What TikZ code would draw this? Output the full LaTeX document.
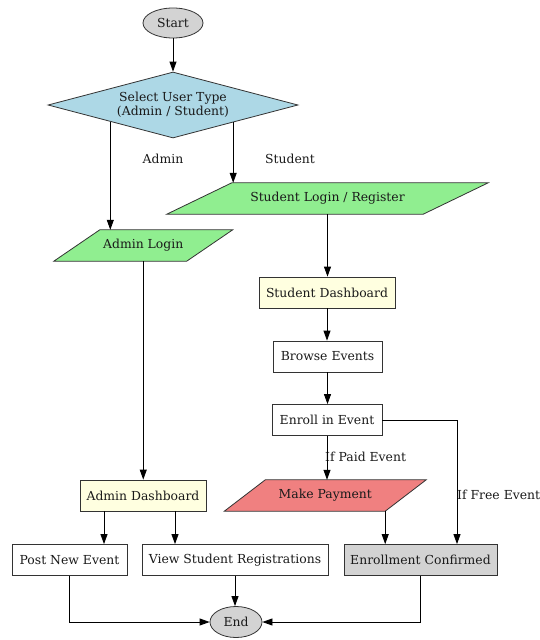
\documentclass[tikz,border=0pt]{standalone}
\usepackage{fontspec}
\setmainfont{DejaVu Serif}
\usetikzlibrary{shapes.geometric,arrows.meta,calc}
\definecolor{lblue}{HTML}{ADD8E6}
\definecolor{lgreen}{HTML}{90EE90}
\definecolor{lyellow}{HTML}{FFFFE0}
\definecolor{lcoral}{HTML}{F08080}
\definecolor{lgray}{HTML}{D3D3D3}
\definecolor{edgec}{HTML}{333333}
\definecolor{textc}{HTML}{1A1A1A}
\pgfdeclarelayer{bg}
\pgfsetlayers{bg,main}
\newcommand{\paral}[3]{%
  \begin{pgfonlayer}{bg}
  \path[draw=edgec,line width=0.8pt,fill=#3]
    ($(#1.north west)+(#2,0)$) -- ($(#1.north east)+(#2,0)$) --
    ($(#1.south east)-(#2,0)$) -- ($(#1.south west)-(#2,0)$) -- cycle;
  \end{pgfonlayer}}
\begin{document}
\begin{tikzpicture}[x=1pt,y=-1pt,
  font=\fontsize{12.4}{13.5}\selectfont,
  every node/.style={text=textc},
  box/.style={rectangle,draw=edgec,line width=0.8pt,minimum height=31pt,inner sep=0pt},
  ell/.style={ellipse,draw=edgec,line width=0.8pt,fill=lgray,inner sep=0pt},
  plain/.style={rectangle,minimum height=31pt,inner sep=0pt},
  lbl/.style={inner sep=0pt},
  arr/.style={draw=black,line width=0.8pt,-{Triangle[length=10pt,width=7pt]}}]
\useasboundingbox (0,0) rectangle (540,640);
% nodes
\node[ell,minimum width=60pt,minimum height=30pt] (start) at (173,23) {Start};
\node[diamond,draw=edgec,line width=0.8pt,fill=lblue,aspect=3.788,minimum width=250pt,minimum height=66pt,inner sep=0pt,align=center] (sel) at (173,105) {Select User Type\\(Admin / Student)};
\node[plain,minimum width=256pt] (slogin) at (327.5,198.5) {Student Login / Register};
\paral{slogin}{32.5}{lgreen}
\node[plain,minimum width=132.5pt] (alogin) at (143.25,245.5) {Admin Login};
\paral{alogin}{23}{lgreen}
\node[box,fill=lyellow,minimum width=136pt] (sdash) at (327,292.5) {Student Dashboard};
\node[box,minimum width=109pt] (browse) at (327.5,356.5) {Browse Events};
\node[box,minimum width=110pt] (enroll) at (327,420) {Enroll in Event};
\node[box,fill=lyellow,minimum width=126pt] (adash) at (143,495.5) {Admin Dashboard};
\node[plain,minimum width=160.5pt] (pay) at (325.25,495.5) {Make Payment};
\paral{pay}{20.5}{lcoral}
\node[box,minimum width=115pt] (post) at (69.5,560) {Post New Event};
\node[box,minimum width=186pt] (view) at (235,560) {View Student Registrations};
\node[box,fill=lgray,minimum width=153pt] (conf) at (420.5,560) {Enrollment Confirmed};
\node[ell,minimum width=52pt,minimum height=31pt] (end) at (236,622) {End};
% edge labels
\node[lbl] (ladmin) at (163,159) {Admin};
\node[lbl] (lstudent) at (290,159) {Student};
\node[lbl,anchor=west] (lpaid) at (325,457) {If Paid Event};
\node[lbl,anchor=west] (lfree) at (457,495) {If Free Event};
% connectors
\coordinate (sa) at ($(sel.west)!0.5!(sel.south)$);
\coordinate (sb) at ($(sel.east)!0.52!(sel.south)$);
\coordinate (pe) at ($(pay.south east)-(20.5,0)$);
\coordinate (ad1) at ($(adash.south)+(-39,0)$);
\coordinate (ad2) at ($(adash.south)+(32,0)$);
\coordinate (cf) at ($(conf.north)+(36.5,0)$);
\draw[arr] (start.south) -- (start.south |- sel.north);
\draw[arr] (sa) -- (sa |- alogin.north);
\draw[arr] (sb) -- (sb |- slogin.north);
\draw[arr] (slogin.south) -- (slogin.south |- sdash.north);
\draw[arr] (alogin.south) -- (alogin.south |- adash.north);
\draw[arr] (sdash.south) -- (sdash.south |- browse.north);
\draw[arr] (browse.south) -- (browse.south |- enroll.north);
\draw[arr] (enroll.south) -- (enroll.south |- pay.north);
\draw[arr] (enroll.east) -| (cf);
\draw[arr] (pe) -- (pe |- conf.north);
\draw[arr] (ad1) -- (ad1 |- post.north);
\draw[arr] (ad2) -- (ad2 |- view.north);
\draw[arr] (post.south) |- (end.west);
\draw[arr] (view.south) -- (view.south |- end.north);
\draw[arr] (conf.south) |- (end.east);
\end{tikzpicture}
\end{document}
